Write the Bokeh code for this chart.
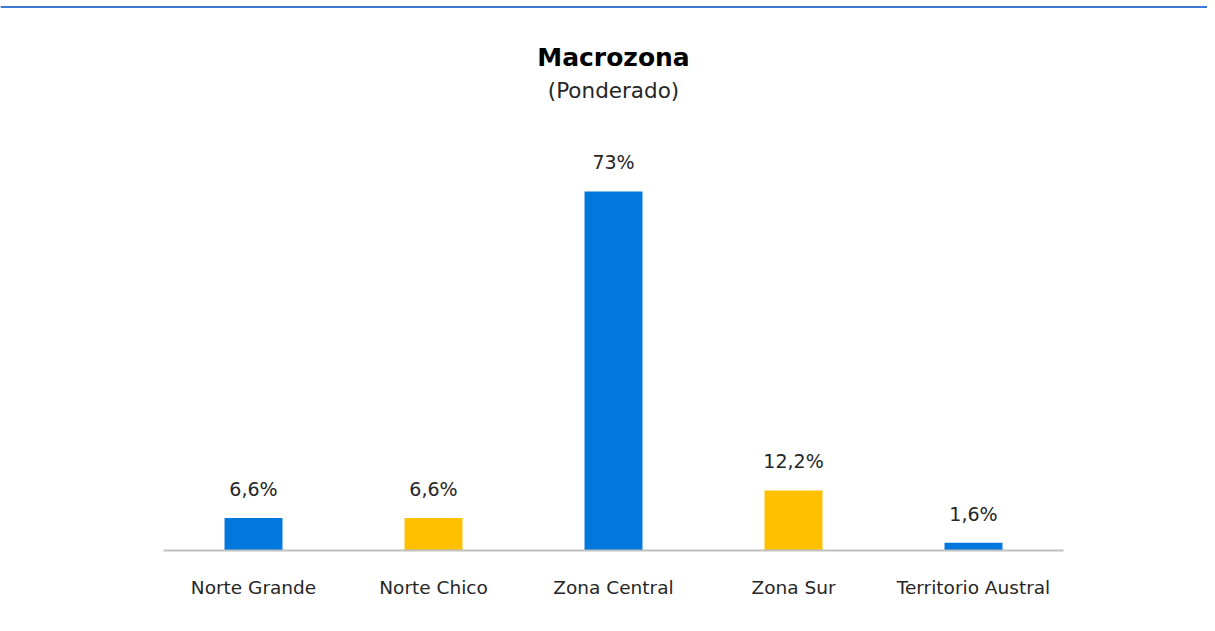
from bokeh.plotting import figure
from bokeh.models import ColumnDataSource, Range1d, FixedTicker, Span, Label, LinearAxis
from bokeh.core.properties import value
from bokeh.embed import file_html
from bokeh.resources import INLINE

categories = ["Norte Grande", "Norte Chico", "Zona Central", "Zona Sur", "Territorio Austral"]
values = [6.6, 6.6, 73.0, 12.2, 1.6]
value_labels = ["6,6%", "6,6%", "73%", "12,2%", "1,6%"]
bar_colors = ["#0277DE", "#FFC000", "#0277DE", "#FFC000", "#0277DE"]
title_text = "Macrozona"
subtitle_text = "(Ponderado)"

FONT = "DejaVu Sans"
idx = list(range(len(categories)))

src = ColumnDataSource(dict(x=idx, top=values, label=value_labels, color=bar_colors))

y_end = 111.83
p = figure(width=1207, height=623, output_backend="svg", toolbar_location=None,
           x_range=Range1d(-1.4056, 5.3), y_range=Range1d(0, y_end),
           min_border_left=0, min_border_right=0, min_border_top=0, min_border_bottom=0,
           x_axis_location=None, y_axis_location=None)
p.outline_line_color = None
p.grid.visible = False
p.background_fill_color = "white"

p.vbar(x="x", top="top", width=0.322, bottom=0, color="color", line_color=None, source=src)

p.text(x="x", y="top", text="label", source=src, text_align="center", text_baseline="alphabetic",
       y_offset=-29, text_font=value(FONT), text_font_size="19px", text_color="#262626")

xaxis = LinearAxis(bounds=(-0.5, len(categories) - 0.5))
xaxis.ticker = FixedTicker(ticks=idx)
xaxis.major_label_overrides = {i: c for i, c in enumerate(categories)}
xaxis.axis_line_color = "#BFBFBF"
xaxis.axis_line_width = 2
xaxis.major_tick_line_color = None
xaxis.minor_tick_line_color = None
xaxis.major_label_standoff = 20
xaxis.major_label_text_font = FONT
xaxis.major_label_text_font_size = "18.5px"
xaxis.major_label_text_color = "#262626"
p.add_layout(xaxis, "below")
p.min_border_bottom = 73

p.add_layout(Span(location=110.51, dimension="width", line_color="#3C78D8", line_width=2))

p.add_layout(Label(x=2, y=100.24, text=title_text, text_align="center", text_baseline="middle",
                   text_font=FONT, text_font_size="25px", text_font_style="bold", text_color="#000000"))
p.add_layout(Label(x=2, y=93.53, text=subtitle_text, text_align="center", text_baseline="middle",
                   text_font=FONT, text_font_size="21.5px", text_color="#262626"))

open("out.html", "w").write(file_html(p, INLINE))
